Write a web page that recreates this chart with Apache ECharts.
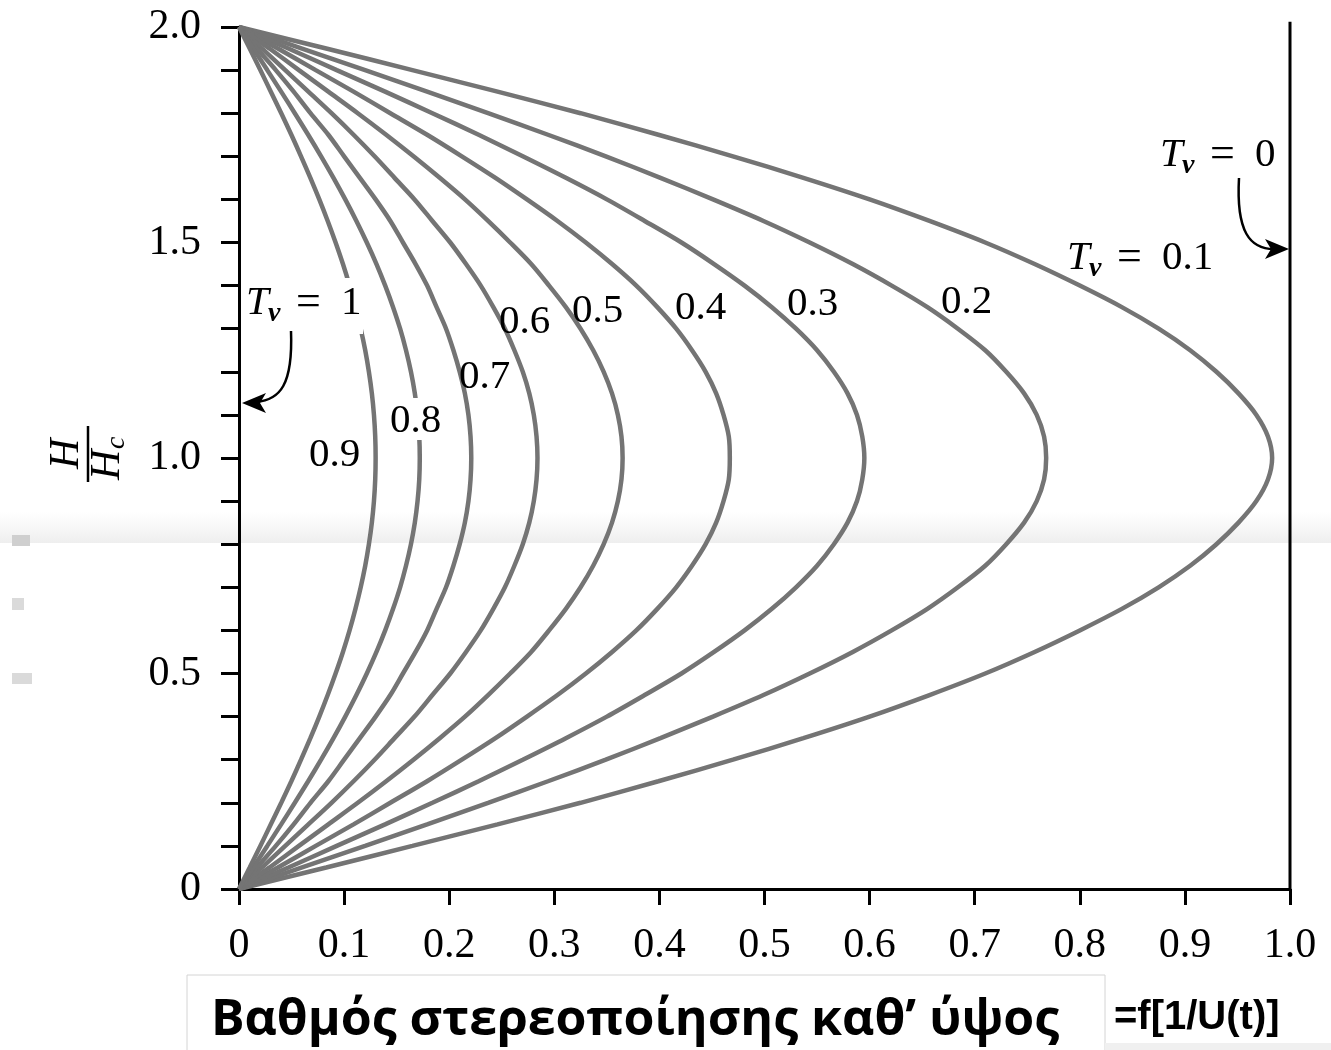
<!DOCTYPE html>
<html lang="el">
<head>
<meta charset="UTF-8">
<title>Isochrones</title>
<script src="https://cdn.jsdelivr.net/npm/echarts@6/dist/echarts.min.js"></script>
<style>html,body{margin:0;padding:0;background:#fff}</style>
</head>
<body>
<div id="main" style="width:1331px;height:1050px;"></div>
<script>
// H/Hc levels where the curves were read
const heights = [0, 0.05, 0.1, 0.15, 0.2, 0.25, 0.3, 0.35, 0.4, 0.45, 0.5, 0.55, 0.6, 0.65, 0.7, 0.75, 0.8, 0.85, 0.9, 0.95, 1.0,
                 1.05, 1.1, 1.15, 1.2, 1.25, 1.3, 1.35, 1.4, 1.45, 1.5, 1.55, 1.6, 1.65, 1.7, 1.75, 1.8, 1.85, 1.9, 1.95, 2.0];

// u/u0 (Tv = 0.1 ... 0.9)
const tv01 = [0, 0.083, 0.165, 0.246, 0.325, 0.399, 0.470, 0.537, 0.600, 0.657, 0.710, 0.757, 0.800, 0.840, 0.875, 0.905, 0.930, 0.951, 0.968, 0.979, 0.983,
              0.979, 0.968, 0.951, 0.930, 0.905, 0.875, 0.840, 0.800, 0.757, 0.710, 0.657, 0.600, 0.537, 0.470, 0.399, 0.325, 0.246, 0.165, 0.083, 0];
const tv02 = [0, 0.060, 0.120, 0.179, 0.237, 0.294, 0.349, 0.401, 0.451, 0.499, 0.543, 0.584, 0.621, 0.655, 0.684, 0.710, 0.730, 0.747, 0.759, 0.766, 0.768,
              0.766, 0.759, 0.747, 0.730, 0.710, 0.684, 0.655, 0.621, 0.584, 0.543, 0.499, 0.451, 0.401, 0.349, 0.294, 0.237, 0.179, 0.120, 0.060, 0];
const tv03 = [0, 0.047, 0.093, 0.139, 0.184, 0.228, 0.270, 0.311, 0.350, 0.386, 0.421, 0.452, 0.481, 0.507, 0.530, 0.550, 0.566, 0.579, 0.588, 0.593, 0.595,
              0.593, 0.588, 0.579, 0.566, 0.550, 0.530, 0.507, 0.481, 0.452, 0.421, 0.386, 0.350, 0.311, 0.270, 0.228, 0.184, 0.139, 0.093, 0.047, 0];
const tv04 = [0, 0.037, 0.073, 0.109, 0.144, 0.179, 0.212, 0.244, 0.274, 0.303, 0.330, 0.355, 0.378, 0.398, 0.416, 0.431, 0.444, 0.454, 0.461, 0.466, 0.467,
              0.466, 0.461, 0.454, 0.444, 0.431, 0.416, 0.398, 0.378, 0.355, 0.330, 0.303, 0.274, 0.244, 0.212, 0.179, 0.144, 0.109, 0.073, 0.037, 0];
const tv05 = [0, 0.029, 0.057, 0.085, 0.113, 0.140, 0.166, 0.191, 0.215, 0.237, 0.258, 0.278, 0.295, 0.311, 0.325, 0.337, 0.347, 0.3549, 0.3605, 0.3639, 0.365,
              0.3639, 0.3605, 0.3549, 0.347, 0.337, 0.325, 0.311, 0.295, 0.278, 0.258, 0.237, 0.215, 0.191, 0.166, 0.140, 0.113, 0.085, 0.057, 0.029, 0];
const tv06 = [0, 0.022, 0.044, 0.066, 0.088, 0.109, 0.129, 0.148, 0.167, 0.184, 0.201, 0.216, 0.230, 0.242, 0.253, 0.262, 0.270, 0.2762, 0.2805, 0.2831, 0.284,
              0.2831, 0.2805, 0.2762, 0.270, 0.262, 0.253, 0.242, 0.230, 0.216, 0.201, 0.184, 0.167, 0.148, 0.129, 0.109, 0.088, 0.066, 0.044, 0.022, 0];
const tv07 = [0, 0.017, 0.035, 0.052, 0.068, 0.085, 0.100, 0.115, 0.130, 0.144, 0.156, 0.168, 0.179, 0.188, 0.197, 0.204, 0.210, 0.2149, 0.2183, 0.2203, 0.221,
              0.2203, 0.2183, 0.2149, 0.210, 0.204, 0.197, 0.188, 0.179, 0.168, 0.156, 0.144, 0.130, 0.115, 0.100, 0.085, 0.068, 0.052, 0.035, 0.017, 0];
const tv08 = [0, 0.0135, 0.0269, 0.0401, 0.0531, 0.0658, 0.0781, 0.0899, 0.1011, 0.1117, 0.1216, 0.1308, 0.1391, 0.1466, 0.1533, 0.1589, 0.1636, 0.1673, 0.1699, 0.1715, 0.172,
              0.1715, 0.1699, 0.1673, 0.1636, 0.1589, 0.1533, 0.1466, 0.1391, 0.1308, 0.1216, 0.1117, 0.1011, 0.0899, 0.0781, 0.0658, 0.0531, 0.0401, 0.0269, 0.0135, 0];
const tv09 = [0, 0.0102, 0.0203, 0.0303, 0.0402, 0.0498, 0.0590, 0.0679, 0.0764, 0.0844, 0.0919, 0.0989, 0.1052, 0.1108, 0.1158, 0.1201, 0.1236, 0.1264, 0.1284, 0.1296, 0.130,
              0.1296, 0.1284, 0.1264, 0.1236, 0.1201, 0.1158, 0.1108, 0.1052, 0.0989, 0.0919, 0.0844, 0.0764, 0.0679, 0.0590, 0.0498, 0.0402, 0.0303, 0.0203, 0.0102, 0];

const curves = [tv01, tv02, tv03, tv04, tv05, tv06, tv07, tv08, tv09];
const curveNames = ['0.1', '0.2', '0.3', '0.4', '0.5', '0.6', '0.7', '0.8', '0.9'];

// Tv = 0 : vertical line at u/u0 = 1
const tv0x = [1, 1];
const tv0y = [0, 2.012];

const serif = '"Liberation Serif", "DejaVu Serif", serif';
const sans = '"Liberation Sans", Arial, sans-serif';

let myChart = echarts.init(document.getElementById('main'));

let series = curves.map((c, k) => ({
    name: 'Tv=' + curveNames[k],
    type: 'line',
    smooth: 0.3,
    symbol: 'none',
    lineStyle: { color: '#747474', width: 4.5 },
    data: heights.map((h, i) => [c[i], h])
}));
series.push({
    name: 'Tv=0',
    type: 'line',
    symbol: 'none',
    clip: false,
    lineStyle: { color: '#000', width: 3 },
    data: tv0x.map((x, i) => [x, tv0y[i]])
});

function txt(x, y, text, font, extra) {
    return Object.assign({
        type: 'text', x: x, y: y, z: 100,
        style: { text: text, font: font, fill: '#000',
                 textAlign: 'left', textVerticalAlign: 'middle',
                 align: 'left', verticalAlign: 'middle' }
    }, extra || {});
}

// "T_v = val" with left edge at x
function tvLabel(x, y, val) {
    return [
        txt(x, y, 'T', 'italic 41px ' + serif),
        txt(x + 22, y + 11, 'v', 'italic bold 28px ' + serif),
        txt(x + 50, y, '=', '44px ' + serif),
        txt(x + 95, y, val, '41px ' + serif)
    ];
}

function mask(x, y, w, h) {
    return { type: 'rect', z: 90, shape: { x: x, y: y, width: w, height: h }, style: { fill: '#fff' } };
}

let graphics = [
    // scan artefacts
    { type: 'rect', z: -1, shape: { x: 0, y: 512, width: 1331, height: 31 },
      style: { fill: new echarts.graphic.LinearGradient(0, 0, 0, 1, [
          { offset: 0, color: 'rgba(240,240,240,0)' }, { offset: 1, color: '#eeeeee' }]) } },
    { type: 'rect', z: -1, shape: { x: 12, y: 535, width: 18, height: 11 }, style: { fill: '#cfcfcf' } },
    { type: 'rect', z: -1, shape: { x: 12, y: 598, width: 12, height: 12 }, style: { fill: '#dadada' } },
    { type: 'rect', z: -1, shape: { x: 12, y: 673, width: 20, height: 11 }, style: { fill: '#dadada' } },

    // masks where the curves are cut for labels
    mask(337, 278, 26, 56),
    mask(392, 398, 48, 42),

    ...tvLabel(246, 303, '1'),
    ...tvLabel(1067, 258, '0.1'),
    ...tvLabel(1160, 155, '0'),

    txt(309, 455, '0.9', '41px ' + serif),
    txt(390, 421, '0.8', '41px ' + serif),
    txt(459, 377, '0.7', '41px ' + serif),
    txt(499, 322, '0.6', '41px ' + serif),
    txt(572, 311, '0.5', '41px ' + serif),
    txt(675, 308, '0.4', '41px ' + serif),
    txt(787, 304, '0.3', '41px ' + serif),
    txt(941, 302, '0.2', '41px ' + serif),

    // arrows
    { type: 'bezierCurve', z: 100, shape: { x1: 1239, y1: 178, x2: 1274, y2: 249, cpx1: 1236, cpy1: 232, cpx2: 1250, cpy2: 249 },
      style: { stroke: '#000', lineWidth: 2.5, fill: null } },
    { type: 'polygon', z: 100, shape: { points: [[1289, 249], [1265, 239], [1271, 249], [1265, 259]] }, style: { fill: '#000' } },
    { type: 'bezierCurve', z: 100, shape: { x1: 291, y1: 331, x2: 256, y2: 402, cpx1: 293, cpy1: 385, cpx2: 280, cpy2: 400 },
      style: { stroke: '#000', lineWidth: 2.5, fill: null } },
    { type: 'polygon', z: 100, shape: { points: [[242, 403], [266, 393], [260, 403], [266, 413]] }, style: { fill: '#000' } },

    // y axis name H / Hc (rotated)
    { type: 'group', x: 88, y: 454, rotation: Math.PI / 2, z: 100, children: [
        txt(-15, -21, 'H', 'italic 42px ' + serif),
        { type: 'line', z: 100, shape: { x1: -28, y1: 0, x2: 28, y2: 0 }, style: { stroke: '#000', lineWidth: 2.5 } },
        txt(-26, 20, 'H', 'italic 42px ' + serif),
        txt(5, 29, 'c', 'italic 28px ' + serif)
    ] },

    // bottom caption
    { type: 'rect', z: 100, shape: { x: 187, y: 975, width: 918, height: 90 },
      style: { fill: '#fff', stroke: '#d4d4d4', lineWidth: 1 } },
    { type: 'rect', z: 100, shape: { x: 1105, y: 1043, width: 226, height: 7 }, style: { fill: '#f0f0f0' } },
    txt(635, 1021, '', '', {
        style: { text: 'Βαθμός στερεοποίησης καθ’ ύψος', font: 'bold 50px "Open Sans", ' + sans, fill: '#000',
                 textAlign: 'center', textVerticalAlign: 'middle', align: 'center', verticalAlign: 'middle' } }),
    txt(1114, 1018, '=f[1/U(t)]', 'bold 40px ' + sans)
];

let options = {
    animation: false,
    backgroundColor: '#fff',
    grid: { left: 239, right: 41, top: 27, bottom: 161 },
    xAxis: {
        type: 'value', min: 0, max: 1, interval: 0.1,
        axisLine: { onZero: false, lineStyle: { color: '#000', width: 3 } },
        axisTick: { length: 16, lineStyle: { color: '#000', width: 3 } },
        splitLine: { show: false },
        axisLabel: {
            margin: 36, color: '#000', fontFamily: serif, fontSize: 42,
            formatter: v => v === 0 ? '0' : v.toFixed(1)
        }
    },
    yAxis: {
        type: 'value', min: 0, max: 2, interval: 0.1,
        axisLine: { onZero: false, lineStyle: { color: '#000', width: 3 } },
        axisTick: { length: 18, lineStyle: { color: '#000', width: 3 } },
        splitLine: { show: false },
        axisLabel: {
            margin: 38, color: '#000', fontFamily: serif, fontSize: 42,
            formatter: v => {
                if (Math.abs(v * 2 - Math.round(v * 2)) > 1e-6) return '';
                return v === 0 ? '0' : v.toFixed(1);
            }
        }
    },
    series: series,
    graphic: graphics
};

myChart.setOption(options);
</script>
</body>
</html>
